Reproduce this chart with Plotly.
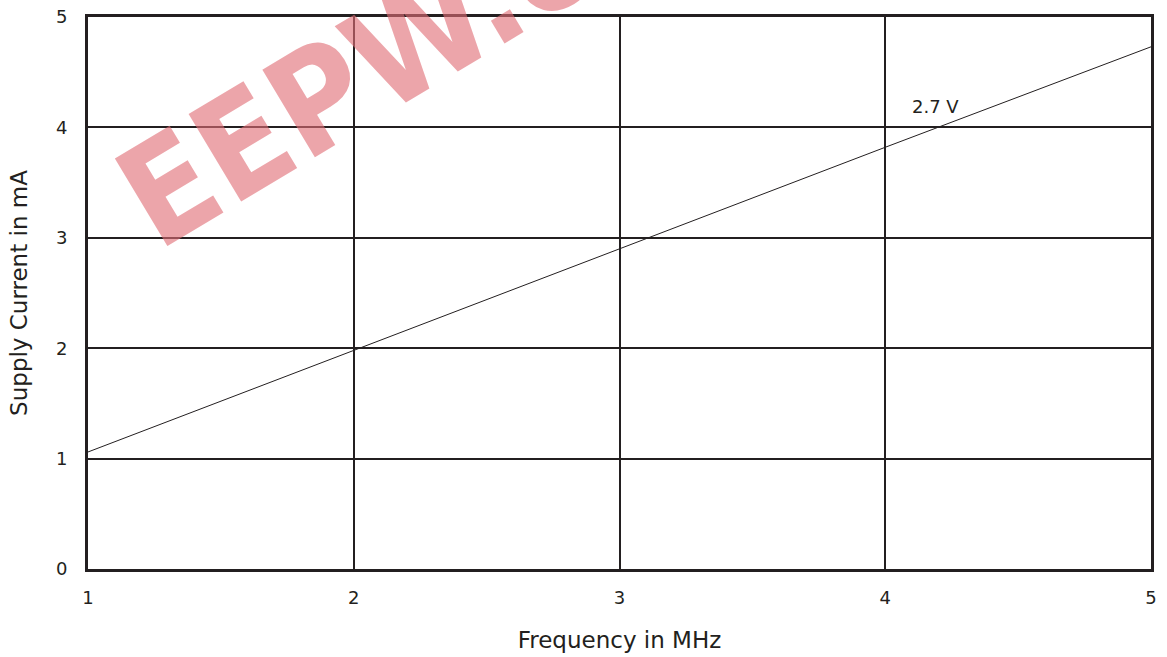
import plotly.graph_objects as go

freq_mhz = [1, 2, 3, 4, 5]
current_ma = [1.06, 1.98, 2.90, 3.82, 4.73]
x_ticks = [1, 2, 3, 4, 5]
y_ticks = [0, 1, 2, 3, 4, 5]
series_label = "2.7 V"

FONT = "DejaVu Sans"
INK = "#231f20"

fig = go.Figure()
fig.add_trace(go.Scatter(x=freq_mhz, y=current_ma, mode="lines",
                         line=dict(color=INK, width=1), showlegend=False))

fig.add_annotation(x=4.19, y=4.19, text=series_label, showarrow=False,
                   font=dict(family=FONT, size=18, color=INK))

# watermark
fig.add_annotation(xref="paper", yref="paper", x=0.422, y=1.09, text="<b>EEPW.com.cn</b>",
                   showarrow=False, textangle=-31, xanchor="center", yanchor="middle",
                   font=dict(family="DejaVu Sans Condensed, DejaVu Sans", size=140,
                             color="rgba(224,110,118,0.62)"))

fig.update_layout(
    width=1167, height=657,
    margin=dict(l=88, r=16, t=17, b=88),
    paper_bgcolor="white", plot_bgcolor="white",
    font=dict(family=FONT, size=18, color=INK),
)
fig.update_xaxes(range=[1, 5], tickvals=x_ticks, showgrid=True, gridcolor=INK, gridwidth=2,
                 showline=True, linecolor=INK, linewidth=3, mirror=True, zeroline=False,
                 ticks="", ticklabelstandoff=10, automargin=False,
                 title=dict(text="Frequency in MHz", font=dict(size=23), standoff=26))
fig.update_yaxes(range=[0, 5], tickvals=y_ticks, showgrid=True, gridcolor=INK, gridwidth=2,
                 showline=True, linecolor=INK, linewidth=3, mirror=True, zeroline=False,
                 ticks="", ticklabelstandoff=14, automargin=False,
                 title=dict(text="Supply Current in mA", font=dict(size=23), standoff=22))

fig.write_html("out.html", config={"displayModeBar": False},
               post_script="document.body.style.margin='0';")
